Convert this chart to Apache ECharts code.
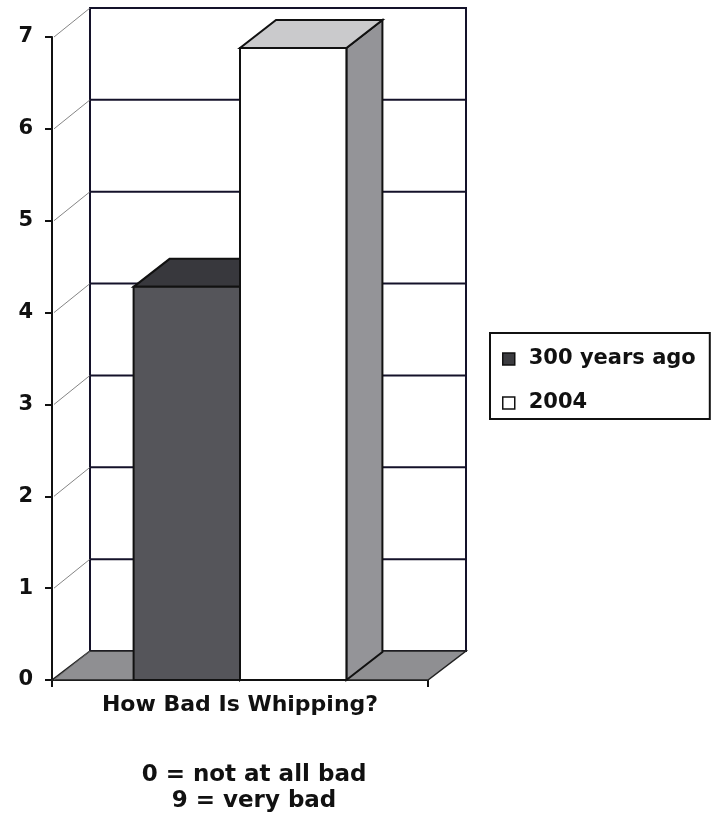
<!DOCTYPE html>
<html>
<head>
<meta charset="utf-8">
<script src="https://cdn.jsdelivr.net/npm/echarts@6/dist/echarts.min.js"></script>
<style>
  html, body { margin: 0; padding: 0; background: #fff; }
  #chart { width: 719px; height: 823px; }
</style>
</head>
<body>
<div id="chart"></div>
<script>
  // data
  const categories = ['How Bad Is Whipping?']
  const seriesNames = ['300 years ago', '2004']
  const pastValues = [4.28]
  const recentValues = [6.88]
  const yTicks = [0, 1, 2, 3, 4, 5, 6, 7]

  const FONT = '"DejaVu Sans", Arial, sans-serif'
  const WALL_DX = 38, WALL_DY = -29
  const BAR_DX = 36, BAR_DY = -28
  const BAR_RATIO = 0.283
  const LINE = '#14122a'

  function wallsItem(params, api) {
    const band = api.size([1, 0])[0]
    const c0 = api.coord([0, yTicks[0]])
    const cTop = api.coord([0, yTicks[yTicks.length - 1]])
    const left = c0[0] - band / 2
    const right = c0[0] + band / 2
    const bottom = c0[1]
    const top = cTop[1]
    const children = []
    // back wall
    children.push({
      type: 'rect',
      shape: {x: left + WALL_DX, y: top + WALL_DY, width: band, height: bottom - top},
      style: {fill: '#fff', stroke: LINE, lineWidth: 2}
    })
    // floor
    children.push({
      type: 'polygon',
      shape: {points: [[left, bottom], [right, bottom], [right + WALL_DX, bottom + WALL_DY], [left + WALL_DX, bottom + WALL_DY]]},
      style: {fill: '#8f8f92', stroke: '#222', lineWidth: 1.5}
    })
    yTicks.forEach(function (v) {
      const y = api.coord([0, v])[1]
      if (v > 0 && v < yTicks[yTicks.length - 1]) {
        children.push({
          type: 'line',
          shape: {x1: left + WALL_DX, y1: y + WALL_DY, x2: right + WALL_DX, y2: y + WALL_DY},
          style: {stroke: LINE, lineWidth: 2}
        })
      }
      // thin lines across the side wall
      children.push({
        type: 'line',
        shape: {x1: left + 2, y1: y, x2: left + WALL_DX, y2: y + WALL_DY},
        style: {stroke: '#666', lineWidth: 0.8}
      })
    })
    return {type: 'group', children: children}
  }

  function barItem(slot, colors) {
    return function (params, api) {
      const band = api.size([1, 0])[0]
      const base = api.coord([api.value(0), 0])
      const top = api.coord([api.value(0), api.value(1)])
      const w = band * BAR_RATIO
      const x0 = base[0] + slot * w
      const x1 = x0 + w
      const yb = base[1], yt = top[1]
      return {
        type: 'group',
        children: [
          {
            type: 'polygon',
            shape: {points: [[x1, yt], [x1 + BAR_DX, yt + BAR_DY], [x1 + BAR_DX, yb + BAR_DY], [x1, yb]]},
            style: {fill: colors.side, stroke: '#111', lineWidth: 2}
          },
          {
            type: 'polygon',
            shape: {points: [[x0, yt], [x1, yt], [x1 + BAR_DX, yt + BAR_DY], [x0 + BAR_DX, yt + BAR_DY]]},
            style: {fill: colors.top, stroke: '#111', lineWidth: 2}
          },
          {
            type: 'rect',
            shape: {x: x0, y: yt, width: w, height: yb - yt},
            style: {fill: colors.front, stroke: '#111', lineWidth: 2}
          }
        ]
      }
    }
  }

  const chart = echarts.init(document.getElementById('chart'))
  chart.setOption({
    animation: false,
    backgroundColor: '#fff',
    title: {
      text: '0 = not at all bad\n9 = very bad',
      left: 249,
      top: 757,
      textAlign: 'center',
      textStyle: {fontFamily: FONT, fontSize: 23, fontWeight: 'bold', color: '#111', lineHeight: 26}
    },
    legend: {
      orient: 'vertical',
      left: 490,
      top: 333,
      padding: [14, 14, 4, 12],
      borderColor: '#111',
      borderWidth: 2,
      itemGap: 20,
      itemWidth: 12,
      itemHeight: 12,
      icon: 'rect',
      data: [
        {name: seriesNames[0], itemStyle: {color: '#3c3c40', borderColor: '#111', borderWidth: 1.5}},
        {name: seriesNames[1], itemStyle: {color: '#fff', borderColor: '#111', borderWidth: 1.5}}
      ],
      textStyle: {fontFamily: FONT, fontSize: 21, fontWeight: 'bold', color: '#111', lineHeight: 24, padding: [0, 0, 0, 9]}
    },
    grid: {left: 52, right: 291, top: 37, bottom: 143},
    xAxis: {
      type: 'category',
      data: categories,
      axisLine: {lineStyle: {color: '#111', width: 2}},
      axisTick: {show: true, length: 7, lineStyle: {color: '#111', width: 2}},
      axisLabel: {margin: 14, fontFamily: FONT, fontSize: 22, fontWeight: 'bold', color: '#111'},
      splitLine: {show: false}
    },
    yAxis: {
      type: 'value',
      min: 0,
      max: 7,
      interval: 1,
      axisLine: {show: true, lineStyle: {color: '#111', width: 2}},
      axisTick: {show: true, length: 7, lineStyle: {color: '#111', width: 2}},
      axisLabel: {margin: 19, fontFamily: FONT, fontSize: 21, fontWeight: 'bold', color: '#111'},
      splitLine: {show: false}
    },
    series: [
      {
        name: 'walls',
        type: 'custom',
        z: 1,
        clip: false,
        silent: true,
        renderItem: wallsItem,
        data: [[0, 0]]
      },
      {
        name: seriesNames[0],
        type: 'custom',
        z: 2,
        clip: false,
        itemStyle: {color: '#3c3c40'},
        renderItem: barItem(-1, {front: '#55555a', top: '#38383d', side: '#444448'}),
        data: pastValues.map(function (v, i) { return [i, v] })
      },
      {
        name: seriesNames[1],
        type: 'custom',
        z: 3,
        clip: false,
        itemStyle: {color: '#fff'},
        renderItem: barItem(0, {front: '#fff', top: '#cacacc', side: '#949498'}),
        data: recentValues.map(function (v, i) { return [i, v] })
      }
    ]
  })
</script>
</body>
</html>
